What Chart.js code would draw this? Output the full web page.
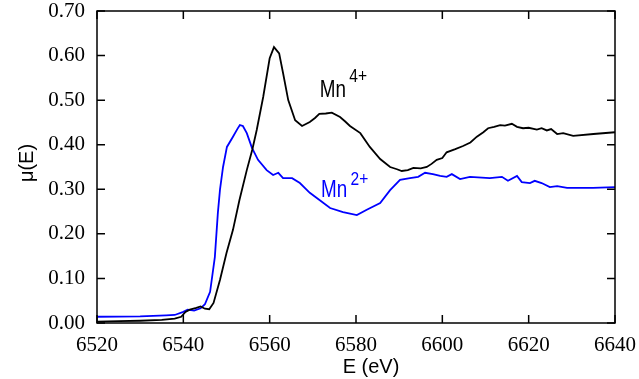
<!DOCTYPE html>
<html>
<head>
<meta charset="utf-8">
<script src="https://cdn.jsdelivr.net/npm/chart.js@4.4.1/dist/chart.umd.min.js"></script>
<style>
  html, body { margin: 0; padding: 0; background: #fff; }
  #wrap { width: 639px; height: 379px; }
</style>
</head>
<body>
<div id="wrap"><canvas id="chart"></canvas></div>
<script>
// Mn K-edge XANES
const mn4Energy = [6520, 6525, 6530, 6535, 6538, 6539.5, 6540.5, 6541.5, 6543, 6544, 6545, 6546, 6547, 6548.5, 6550, 6551.5, 6553, 6554.7, 6556, 6557, 6558.5, 6560, 6561, 6562.2, 6563.1, 6564.3, 6565.9, 6567.5, 6569.3, 6570.5, 6571.5, 6573, 6574.4, 6576.3, 6577.5, 6578.6, 6581, 6583.2, 6585.6, 6587.9, 6589.5, 6590.6, 6592, 6593.3, 6595, 6596.4, 6597.5, 6598.7, 6600, 6601, 6603, 6604.8, 6606.5, 6608, 6609.5, 6610.6, 6612, 6613.4, 6614.5, 6616.1, 6617.3, 6618.7, 6620, 6621.9, 6623, 6624.2, 6625.2, 6626.6, 6628, 6630.3, 6635, 6640];
const mn4Mu = [0.003, 0.004, 0.005, 0.007, 0.010, 0.014, 0.025, 0.030, 0.034, 0.037, 0.032, 0.031, 0.045, 0.097, 0.157, 0.209, 0.276, 0.343, 0.390, 0.433, 0.507, 0.594, 0.619, 0.605, 0.561, 0.500, 0.455, 0.442, 0.451, 0.460, 0.469, 0.470, 0.472, 0.462, 0.452, 0.442, 0.426, 0.395, 0.368, 0.350, 0.345, 0.341, 0.343, 0.348, 0.347, 0.350, 0.357, 0.366, 0.370, 0.383, 0.390, 0.397, 0.405, 0.418, 0.428, 0.437, 0.440, 0.444, 0.443, 0.447, 0.440, 0.437, 0.438, 0.434, 0.437, 0.432, 0.435, 0.424, 0.426, 0.420, 0.424, 0.428];

const mn2Energy = [6520, 6530, 6536, 6538, 6540, 6541, 6542.5, 6544, 6545, 6546.2, 6547.3, 6548, 6548.5, 6549.2, 6550.1, 6551.5, 6552.5, 6553.1, 6553.8, 6554.7, 6555.9, 6557.3, 6559.3, 6560.8, 6562, 6563.1, 6565.2, 6567, 6569.3, 6571, 6574, 6577, 6580.2, 6582.5, 6585.6, 6587.9, 6590.2, 6592.5, 6594.4, 6596, 6597.8, 6599.5, 6601, 6602.2, 6604.1, 6606.4, 6611, 6613.8, 6615.2, 6617.3, 6618.4, 6620.3, 6621.4, 6623, 6624.9, 6626.6, 6628.9, 6634.9, 6640];
const mn2Mu = [0.014, 0.015, 0.017, 0.018, 0.025, 0.030, 0.028, 0.033, 0.042, 0.070, 0.148, 0.247, 0.300, 0.350, 0.395, 0.418, 0.435, 0.444, 0.442, 0.426, 0.393, 0.366, 0.343, 0.332, 0.337, 0.325, 0.325, 0.314, 0.292, 0.280, 0.258, 0.249, 0.242, 0.254, 0.269, 0.298, 0.321, 0.325, 0.328, 0.337, 0.334, 0.330, 0.328, 0.334, 0.323, 0.328, 0.325, 0.328, 0.319, 0.330, 0.316, 0.314, 0.319, 0.314, 0.305, 0.307, 0.303, 0.303, 0.305];

// where the series names sit, in data units
const seriesLabels = [
  { base: "Mn", sup: "4+", at: [6571.6, 0.507], color: "#000000", supRise: 15 },
  { base: "Mn", sup: "2+", at: [6571.9, 0.283], color: "#0000ff", supRise: 12 },
];

const serif = "'Liberation Serif', 'Times New Roman', serif";
const sans = "'Liberation Sans', Arial, sans-serif";

function toPoints(xs, ys) {
  return xs.map((x, i) => ({ x, y: ys[i] }));
}

// frame, inward ticks, axis titles and series names
const framePlugin = {
  id: "frame",
  afterDraw(chart) {
    const { ctx, chartArea: a, scales } = chart;
    const tick = 8;
    ctx.save();
    ctx.strokeStyle = "#000";
    ctx.lineWidth = 1.5;
    ctx.strokeRect(a.left, a.top, a.right - a.left, a.bottom - a.top);
    ctx.beginPath();
    scales.x.ticks.forEach((t) => {
      const px = scales.x.getPixelForValue(t.value);
      ctx.moveTo(px, a.bottom);
      ctx.lineTo(px, a.bottom - tick);
      ctx.moveTo(px, a.top);
      ctx.lineTo(px, a.top + tick);
    });
    scales.y.ticks.forEach((t) => {
      const py = scales.y.getPixelForValue(t.value);
      ctx.moveTo(a.left, py);
      ctx.lineTo(a.left + tick, py);
      ctx.moveTo(a.right, py);
      ctx.lineTo(a.right - tick, py);
    });
    ctx.stroke();

    ctx.fillStyle = "#000";
    ctx.font = `20px ${sans}`;
    ctx.textAlign = "center";
    ctx.textBaseline = "middle";
    ctx.fillText("E (eV)", (a.left + a.right) / 2 + 15, 367);
    ctx.save();
    ctx.translate(27, (a.top + a.bottom) / 2 - 4);
    ctx.rotate(-Math.PI / 2);
    ctx.fillText("\u03bc(E)", 0, 0);
    ctx.restore();

    ctx.textAlign = "left";
    ctx.textBaseline = "alphabetic";
    seriesLabels.forEach((l) => {
      const px = scales.x.getPixelForValue(l.at[0]);
      const py = scales.y.getPixelForValue(l.at[1]);
      ctx.fillStyle = l.color;
      ctx.save();
      ctx.translate(px, py);
      ctx.scale(0.82, 1);
      ctx.font = `23px ${sans}`;
      ctx.fillText(l.base, 0, 0);
      const w = ctx.measureText(l.base).width;
      ctx.font = `19px ${sans}`;
      ctx.fillText(l.sup, w + 4, -l.supRise);
      ctx.restore();
    });
    ctx.restore();
  },
};

new Chart(document.getElementById("chart"), {
  type: "line",
  data: {
    datasets: [
      {
        label: "Mn4+",
        data: toPoints(mn4Energy, mn4Mu),
        borderColor: "#000000",
        borderWidth: 1.8,
        pointRadius: 0,
        tension: 0,
      },
      {
        label: "Mn2+",
        data: toPoints(mn2Energy, mn2Mu),
        borderColor: "#0000ff",
        borderWidth: 1.8,
        pointRadius: 0,
        tension: 0,
      },
    ],
  },
  options: {
    responsive: true,
    maintainAspectRatio: false,
    animation: false,
    layout: { padding: { top: 11, right: 24, left: 0, bottom: 0 } },
    plugins: {
      legend: { display: false },
      tooltip: { enabled: false },
    },
    scales: {
      x: {
        type: "linear",
        min: 6520,
        max: 6640,
        grid: { display: false, drawTicks: false },
        border: { display: false },
        ticks: {
          stepSize: 20,
          padding: 10,
          color: "#000",
          font: { family: serif, size: 21 },
          maxRotation: 0,
          callback: (v) => String(v),
        },
        afterFit: (s) => {
          s.height = 56;
          s.paddingLeft = 0;
          s.paddingRight = 0;
        },
      },
      y: {
        min: 0,
        max: 0.7,
        grid: { display: false, drawTicks: false },
        border: { display: false },
        ticks: {
          stepSize: 0.1,
          padding: 12,
          color: "#000",
          font: { family: serif, size: 21 },
          callback: (v) => v.toFixed(2),
        },
        afterFit: (s) => {
          s.width = 97;
          s.paddingTop = 0;
          s.paddingBottom = 0;
        },
      },
    },
  },
  plugins: [framePlugin],
});
</script>
</body>
</html>
